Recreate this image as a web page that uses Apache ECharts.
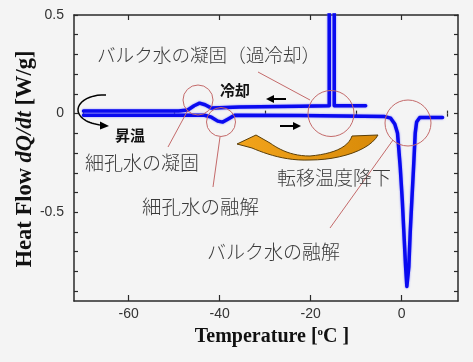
<!DOCTYPE html>
<html>
<head>
<meta charset="utf-8">
<script src="https://cdn.jsdelivr.net/npm/echarts@6/dist/echarts.min.js"></script>
<style>
html,body{margin:0;padding:0;background:#f4f4f4;}
#c{width:473px;height:362px;}
</style>
</head>
<body>
<div id="c"></div>
<script>
// ---- data ----
// heating run (昇温): temperature [°C] and heat flow [W/g]
const heatT = [-69.9, -43.3, -41.8, -40.4, -39.3, -38.2, -36.7, -22.4, -3.7, -2.4, -1.5, -0.9, -0.3, 0.15, 0.5, 0.88, 1.16, 1.4, 1.6, 1.9, 2.26, 2.64, 3.0, 3.3, 4.0, 9.0];
const heatQ = [-0.008, -0.008, -0.018, -0.038, -0.043, -0.028, -0.008, -0.010, -0.015, -0.023, -0.053, -0.098, -0.27, -0.437, -0.60, -0.775, -0.876, -0.876, -0.775, -0.60, -0.437, -0.27, -0.098, -0.043, -0.020, -0.020];
// cooling run (冷却)
const coolT = [-7.9, -14.8, -14.8, -15.9, -15.9, -22.4, -35.6, -40.0, -41.8, -43.2, -44.4, -45.6, -47.0, -49.0, -69.9];
const coolQ = [0.040, 0.040, 0.80, 0.80, 0.040, 0.038, 0.033, 0.030, 0.028, 0.045, 0.053, 0.040, 0.018, 0.013, 0.013];
// axis ticks / labels
const xMajorTicks = [-60, -40, -20, 0];
const xMinorTicks = [-70, -50, -30, -10, 10];
const yTicks = [-0.9, -0.8, -0.7, -0.6, -0.5, -0.4, -0.3, -0.2, -0.1, 0, 0.1, 0.2, 0.3, 0.4, 0.5];
const yLabels = [-0.5, 0, 0.5];

const heatData = heatT.map((t, i) => [t, heatQ[i]]);
const coolData = coolT.map((t, i) => [t, coolQ[i]]);

const frame = '#2a2a2a';
const baseX = {
  type: 'value', min: -72, max: 12.4, gridIndex: 0,
  axisLine: { show: true, onZero: false, lineStyle: { color: frame, width: 1.5 } },
  splitLine: { show: false },
  axisLabel: { show: false },
  axisTick: { show: true, inside: true }
};
const baseY = {
  type: 'value', min: -0.95, max: 0.5, gridIndex: 0,
  axisLine: { show: true, onZero: false, lineStyle: { color: frame, width: 1.5 } },
  splitLine: { show: false },
  axisLabel: { show: false },
  axisTick: { show: true, inside: true }
};
function tick(vals, len) {
  return { show: true, inside: true, length: len, customValues: vals, lineStyle: { color: frame, width: 1.2 } };
}
// sample a sequence of cubic bezier segments into points (for decorative shapes)
function bez(start, segs, n) {
  const pts = [start];
  let p0 = start;
  segs.forEach(s => {
    const [c1, c2, p3] = s;
    for (let k = 1; k <= n; k++) {
      const t = k / n, u = 1 - t;
      pts.push([
        u * u * u * p0[0] + 3 * u * u * t * c1[0] + 3 * u * t * t * c2[0] + t * t * t * p3[0],
        u * u * u * p0[1] + 3 * u * u * t * c1[1] + 3 * u * t * t * c2[1] + t * t * t * p3[1]
      ]);
    }
    p0 = p3;
  });
  return pts;
}

const orangePts = [[378, 135], [352, 136]]
  .concat(bez([352, 136], [[[348, 148], [332, 154], [310, 156]], [[292, 156], [280, 150], [270, 143]]], 12).slice(1))
  .concat([[256, 135], [237, 144], [252, 148]])
  .concat(bez([252, 148], [[[266, 154], [286, 161], [310, 160]], [[340, 160], [370, 150], [378, 135]]], 12).slice(1));
const arcPts = bez([106, 95], [[[88, 94], [74, 104], [79, 114]], [[83, 121], [92, 124], [101, 125]]], 12);

const chart = echarts.init(document.getElementById('c'), null, { renderer: 'canvas' });

const redC = '#c46a6a';
const jp = '"Noto Sans CJK JP", sans-serif';
const txtCol = '#3a3a3a';

function label(text, x, y, size) {
  return { type: 'text', z: 100, style: { text: text, x: x, y: y, font: '300 ' + size + 'px ' + jp, fill: txtCol, textVerticalAlign: 'middle' } };
}
const blueLine = { color: '#0a0af0', width: 3.5, cap: 'round', join: 'round', shadowColor: 'rgba(90,90,255,0.8)', shadowBlur: 2 };

chart.setOption({
  animation: false,
  backgroundColor: '#f4f4f4',
  grid: { left: 74, right: 15, top: 15, bottom: 61 },
  xAxis: [
    Object.assign({}, baseX, {
      position: 'bottom',
      axisTick: tick(xMajorTicks, 6),
      axisLabel: { show: true, customValues: xMajorTicks, color: '#333', fontSize: 14, fontFamily: 'Liberation Sans', margin: 6 },
      name: '{t|Temperature [}{s|o}{t|C ]}',
      nameLocation: 'middle', nameGap: 26,
      nameTextStyle: {
        padding: [0, 0, 0, 12],
        rich: {
          t: { fontFamily: 'Liberation Serif', fontWeight: 'bold', fontSize: 20, color: '#111' },
          s: { fontFamily: 'Liberation Serif', fontWeight: 'bold', fontSize: 11, color: '#111', padding: [0, 0, 9, 0] }
        }
      }
    }),
    Object.assign({}, baseX, { position: 'bottom', axisLine: { show: false }, axisTick: tick(xMinorTicks, 3) }),
    Object.assign({}, baseX, { position: 'top', axisTick: tick(xMajorTicks, 5) }),
    Object.assign({}, baseX, { position: 'top', axisLine: { show: false }, axisTick: tick(xMinorTicks, 3) })
  ],
  yAxis: [
    Object.assign({}, baseY, {
      position: 'left',
      axisTick: tick(yTicks, 4),
      axisLabel: { show: true, customValues: yLabels, color: '#333', fontSize: 14, fontFamily: 'Liberation Sans', margin: 10 }
    }),
    Object.assign({}, baseY, { position: 'right', axisTick: tick(yTicks, 4) })
  ],
  series: [
    { type: 'line', xAxisIndex: 0, yAxisIndex: 0, data: coolData, showSymbol: false, clip: true, lineStyle: blueLine },
    { type: 'line', xAxisIndex: 0, yAxisIndex: 0, data: heatData, showSymbol: false, clip: true, lineStyle: blueLine }
  ],
  graphic: [
    // y-axis title (rotated)
    { type: 'text', z: 100, x: 25, y: 159, rotation: Math.PI / 2,
      style: { text: '{b|Heat Flow }{i|dQ/dt}{b| [W/g]}', align: 'center', verticalAlign: 'middle',
        rich: {
          b: { fontFamily: 'Liberation Serif', fontWeight: 'bold', fontSize: 22.5, fill: '#111' },
          i: { fontFamily: 'Liberation Serif', fontWeight: 'bold', fontStyle: 'italic', fontSize: 22.5, fill: '#111' }
        } } },
    // circles
    { type: 'circle', z: 100, shape: { cx: 198, cy: 100, r: 15 }, style: { fill: 'none', stroke: redC, lineWidth: 1 } },
    { type: 'circle', z: 100, shape: { cx: 221, cy: 122, r: 14.5 }, style: { fill: 'none', stroke: redC, lineWidth: 1 } },
    { type: 'circle', z: 100, shape: { cx: 331, cy: 113.5, r: 23 }, style: { fill: 'none', stroke: redC, lineWidth: 1 } },
    { type: 'circle', z: 100, shape: { cx: 408, cy: 123, r: 23 }, style: { fill: 'none', stroke: redC, lineWidth: 1 } },
    // leader lines
    { type: 'line', z: 100, shape: { x1: 258, y1: 72, x2: 310, y2: 100 }, style: { stroke: redC, lineWidth: 1 } },
    { type: 'line', z: 100, shape: { x1: 168, y1: 147, x2: 188, y2: 110 }, style: { stroke: redC, lineWidth: 1 } },
    { type: 'line', z: 100, shape: { x1: 220, y1: 137, x2: 213, y2: 187 }, style: { stroke: redC, lineWidth: 1 } },
    { type: 'line', z: 100, shape: { x1: 393, y1: 140, x2: 330, y2: 228 }, style: { stroke: redC, lineWidth: 1 } },
    // orange curved arrow
    { type: 'polygon', z: 90, shape: { points: orangePts },
      style: { fill: { type: 'linear', x: 0, y: 0, x2: 1, y2: 0, colorStops: [{ offset: 0, color: '#f2a41c' }, { offset: 1, color: '#d88a08' }] }, stroke: '#5a3e08', lineWidth: 1 } },
    // black arrows
    { type: 'line', z: 100, shape: { x1: 286, y1: 99, x2: 272, y2: 99 }, style: { stroke: '#000', lineWidth: 2 } },
    { type: 'polygon', z: 100, shape: { points: [[266, 99], [274, 95], [274, 103]] }, style: { fill: '#000' } },
    { type: 'line', z: 100, shape: { x1: 280, y1: 126, x2: 294, y2: 126 }, style: { stroke: '#000', lineWidth: 2 } },
    { type: 'polygon', z: 100, shape: { points: [[301, 126], [293, 122], [293, 130]] }, style: { fill: '#000' } },
    { type: 'polyline', z: 100, shape: { points: arcPts }, style: { fill: 'none', stroke: '#000', lineWidth: 1.5 } },
    { type: 'polygon', z: 100, shape: { points: [[109, 126], [100, 121.5], [100, 129.5]] }, style: { fill: '#000' } },
    // annotation texts
    label('バルク水の凝固（過冷却）', 97, 55, 18.6),
    label('細孔水の凝固', 85, 163, 19),
    label('細孔水の融解', 142, 207, 19.5),
    label('転移温度降下', 277, 178, 19),
    label('バルク水の融解', 207, 252, 19),
    { type: 'text', z: 100, style: { text: '冷却', x: 220, y: 90, font: 'bold 15px ' + jp, fill: '#111', textVerticalAlign: 'middle' } },
    { type: 'text', z: 100, style: { text: '昇温', x: 115, y: 135, font: 'bold 15px ' + jp, fill: '#111', textVerticalAlign: 'middle' } }
  ]
});
</script>
</body>
</html>
